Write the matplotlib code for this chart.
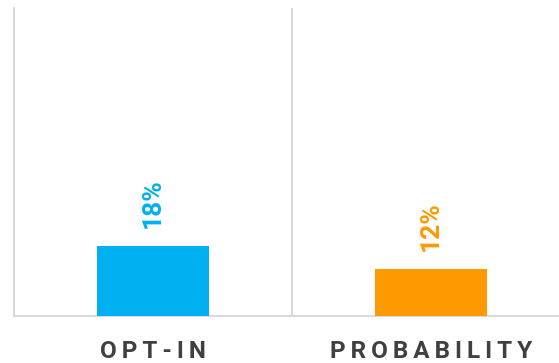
import matplotlib.pyplot as plt

# data
categories = ['OPT-IN', 'PROBABILITY']
values = [18, 12]
colors = ['#00B0F0', '#FF9900']

plt.rcParams['font.family'] = ['Roboto', 'DejaVu Sans']

fig = plt.figure(figsize=(5.59, 3.63), dpi=100)
ax = fig.add_axes([14/559., 1-316/363., 556/559., 308/363.])

x = range(len(categories))
ax.bar(x, values, width=0.4, color=colors, zorder=3)

for xi, v, c in zip(x, values, colors):
    ax.annotate('%d%%' % v, xy=(xi, v), xytext=(0, 13), textcoords='offset points',
                rotation=90, ha='center', va='bottom', color=c,
                fontsize=19, fontweight='bold')

ax.set_xlim(-0.5, 1.5)
ax.set_ylim(0, 79)

# letter spaced category labels
spaced = ['\u2009'.join(list(c)) for c in categories]
ax.set_xticks(list(x))
ax.set_xticklabels(spaced, fontsize=17.5, fontweight='bold', color='#404040')
ax.tick_params(axis='x', length=0, pad=17)
ax.set_yticks([])

# divider between categories
ax.set_xticks([0.5], minor=True)
ax.tick_params(axis='x', which='minor', length=0)
ax.grid(True, which='minor', axis='x', color='#d9d9d9', linewidth=1.5)

for s in ['top', 'right']:
    ax.spines[s].set_visible(False)
for s in ['left', 'bottom']:
    ax.spines[s].set_color('#d9d9d9')
    ax.spines[s].set_linewidth(1.5)

fig.savefig('out.png', dpi=100)
